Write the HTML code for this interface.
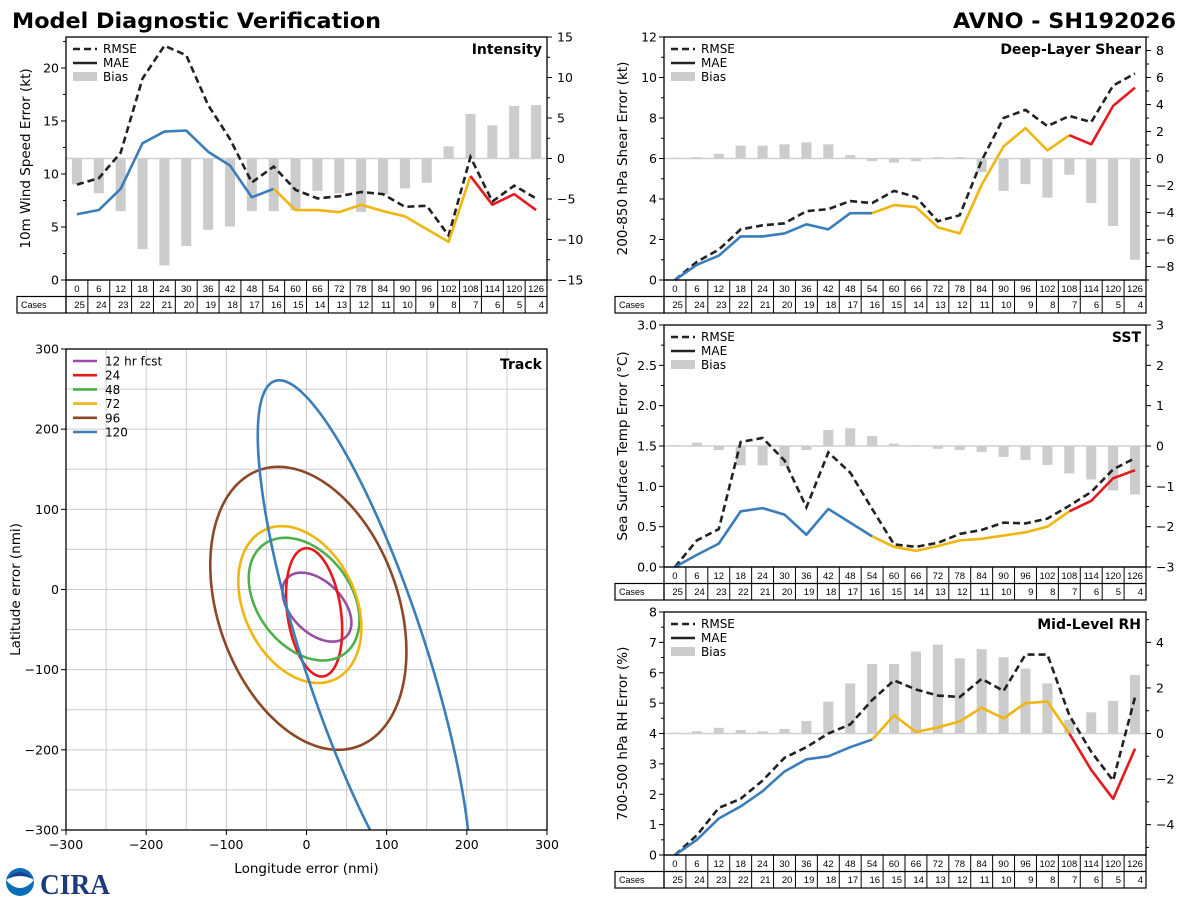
<!DOCTYPE html>
<html><head><meta charset="utf-8">
<style>
html,body{margin:0;padding:0;background:#fff;}
svg{display:block;font-family:"DejaVu Sans","Liberation Sans",sans-serif;}
</style></head>
<body>
<svg id="chart" width="1200" height="900" viewBox="0 0 1200 900" xmlns="http://www.w3.org/2000/svg">
<text x="12" y="28" font-size="21" font-weight="bold" fill="#000" textLength="369" lengthAdjust="spacingAndGlyphs">Model Diagnostic Verification</text>
<text x="953" y="28" font-size="21" font-weight="bold" fill="#000" textLength="223" lengthAdjust="spacingAndGlyphs">AVNO - SH192026</text>
<g>
<circle cx="20" cy="882" r="14" fill="#0a6fb8"/>
<path d="M6 880 Q20 896 34 880 Q20 872 6 880Z" fill="#fff"/>
<path d="M8 878 Q20 866 32 878 Q20 874 8 878Z" fill="#1b3f8f"/>
<text x="40" y="894" font-size="28" font-weight="bold" font-family="Liberation Serif,serif" fill="#1d3a7a" textLength="70" lengthAdjust="spacingAndGlyphs">CIRA</text>
</g>
</svg>
<script>
const leadHours = [0,6,12,18,24,30,36,42,48,54,60,66,72,78,84,90,96,102,108,114,120,126];
const caseCounts = [25,24,23,22,21,20,19,18,17,16,15,14,13,12,11,10,9,8,7,6,5,4];

const intensityRmse = [9.0,9.6,12.0,19.0,22.1,21.2,16.5,13.3,9.2,10.7,8.5,7.7,7.9,8.3,8.1,6.9,7.0,4.2,11.6,7.4,8.9,7.7];
const intensityMae = [6.2,6.6,8.6,12.9,14.0,14.1,12.1,10.8,7.8,8.6,6.6,6.6,6.4,7.1,6.5,6.0,4.8,3.6,9.8,7.1,8.1,6.6];
const intensityBias = [-3.2,-4.3,-6.5,-11.2,-13.2,-10.8,-8.8,-8.4,-6.5,-6.5,-6.4,-4.0,-4.3,-6.6,-4.4,-3.7,-3.0,1.5,5.5,4.1,6.5,6.6];

const shearRmse = [0,0.9,1.5,2.5,2.7,2.8,3.4,3.5,3.9,3.8,4.4,4.1,2.9,3.2,5.9,8.0,8.4,7.6,8.1,7.8,9.6,10.2];
const shearMae = [0,0.75,1.2,2.15,2.15,2.3,2.75,2.5,3.3,3.3,3.7,3.6,2.6,2.3,4.7,6.6,7.5,6.4,7.15,6.7,8.6,9.5];
const shearBias = [0.05,0.1,0.35,0.95,0.95,1.05,1.2,1.05,0.25,-0.2,-0.3,-0.2,0.1,0.1,-1.0,-2.4,-1.9,-2.9,-1.2,-3.3,-5.0,-7.5];

const sstRmse = [0,0.33,0.47,1.55,1.6,1.32,0.74,1.42,1.17,0.72,0.28,0.25,0.3,0.41,0.46,0.55,0.54,0.6,0.76,0.93,1.21,1.35];
const sstMae = [0,0.15,0.29,0.69,0.73,0.65,0.4,0.72,0.55,0.38,0.25,0.2,0.26,0.33,0.35,0.39,0.43,0.5,0.69,0.82,1.1,1.2];
const sstBias = [0.02,0.08,-0.1,-0.48,-0.48,-0.5,-0.1,0.4,0.44,0.25,0.06,0.02,-0.07,-0.1,-0.15,-0.27,-0.35,-0.47,-0.68,-0.83,-1.1,-1.2];

const rhRmse = [0,0.65,1.55,1.85,2.45,3.2,3.55,4.0,4.3,5.1,5.75,5.45,5.25,5.2,5.8,5.4,6.6,6.6,4.6,3.4,2.45,5.2];
const rhMae = [0,0.5,1.2,1.6,2.1,2.75,3.15,3.25,3.55,3.8,4.6,4.05,4.2,4.4,4.85,4.5,5.0,5.05,4.0,2.8,1.85,3.5];
const rhBias = [0.03,0.1,0.25,0.15,0.1,0.2,0.55,1.4,2.2,3.05,3.05,3.6,3.9,3.3,3.7,3.35,2.85,2.2,0.6,0.93,1.43,2.57];

// track error ellipses: centre x, centre y, half-height, x offset of top point, half-width at centre (nmi)
const trackLabels = ["12 hr fcst","24","48","72","96","120"];
const ellipseCx = [13,9.5,-3,-8.3,2.3,72];
const ellipseCy = [-22,-28.5,-12,-18.8,-23.5,-80];
const ellipseHalfH = [43,80,76.5,97.8,176.5,341];
const ellipseTopDx = [-19.4,-9.5,-23.5,-22.7,-37.3,-106];
const ellipseHalfW = [38.4,33.7,64.9,73.3,116.5,80];
const trackColors = ["#984ea3","#e41a1c","#4daf4a","#f0b510","#8b4726","#3a7dbb"];
const trackTicks = [-300,-200,-100,0,100,200,300];

const NS = "http://www.w3.org/2000/svg";
const svg = document.getElementById("chart");
function mk(tag, attrs, parent){
  const e = document.createElementNS(NS, tag);
  for (const k in attrs) e.setAttribute(k, attrs[k]);
  (parent||svg).appendChild(e);
  return e;
}
function fmt(v, dec){
  const s = Math.abs(v).toFixed(dec);
  return (v < 0 ? "\u2212" : "") + s;
}
const BLUE="#3a7dbb", YEL="#f0b510", RED="#e41a1c";

function panel(cfg){
  const g = mk("g", {});
  
  
  const L = cfg.x0, R = cfg.x1, T = cfg.y0, B = cfg.y1;
  const n = leadHours.length, cw = (R - L) / n;
  const xs = i => L + cw * (i + 0.5);
  const yl = v => B - (v - cfg.lmin) / (cfg.lmax - cfg.lmin) * (B - T);
  const yr = v => B - (v - cfg.rmin) / (cfg.rmax - cfg.rmin) * (B - T);
  const zl = mk("line", {x1:L, x2:R, y1:yr(0), y2:yr(0), stroke:"#d0d0d0", "stroke-width":1.5}, g);
  
  
  cfg.bias.forEach((v, i) => {
    const y0 = yr(0), y1 = yr(v);
    const r = mk("rect", {x: xs(i) - cw*0.23, width: cw*0.46, y: Math.min(y0,y1), height: Math.max(Math.abs(y1-y0),0.5), fill:"#cccccc"}, g);
    
    
  });
  const rp = mk("polyline", {points: cfg.rmse.map((v,i)=>xs(i)+","+yl(v)).join(" "), fill:"none", stroke:"#222", "stroke-width":2.6, "stroke-dasharray":"7,4"}, g);
  
  
  const segs = [[0,9,BLUE],[9,18,YEL],[18,n-1,RED]];
  segs.forEach(s => {
    const pts = [];
    for (let i = s[0]; i <= s[1]; i++) pts.push(xs(i)+","+yl(cfg.mae[i]));
    const p = mk("polyline", {points: pts.join(" "), fill:"none", stroke:s[2], "stroke-width":2.6, "stroke-linejoin":"round"}, g);
    
    
  });
  const fr = mk("rect", {x:L, y:T, width:R-L, height:B-T, fill:"none", stroke:"#000", "stroke-width":1.3}, g);
  
  
  for (let v = cfg.lmin; v <= cfg.lmax + 1e-9; v += cfg.lminor){
    const major = Math.abs(v/cfg.lstep - Math.round(v/cfg.lstep)) < 1e-6;
    mk("line", {x1:L, x2:L-(major?5:3), y1:yl(v), y2:yl(v), stroke:"#000", "stroke-width":1}, g);
    if (major){
      const t = mk("text", {x:L-7, y:yl(v)+4.5, "font-size":12.5, "text-anchor":"end"}, g);
      t.textContent = fmt(v, cfg.ldec);
      
      
    }
  }
  const rstart = Math.ceil(cfg.rmin / cfg.rminor - 1e-9) * cfg.rminor;
  for (let v = rstart; v <= cfg.rmax + 1e-9; v += cfg.rminor){
    const major = Math.abs(v/cfg.rstep - Math.round(v/cfg.rstep)) < 1e-6;
    mk("line", {x1:R, x2:R+(major?5:3), y1:yr(v), y2:yr(v), stroke:"#000", "stroke-width":1}, g);
    if (major){
      const t = mk("text", {x:R+10, y:yr(v)+4.5, "font-size":12.5}, g);
      t.textContent = fmt(Math.round(v*1000)/1000, 0);
      
      
    }
  }
  const cy = (T+B)/2;
  const yt = mk("text", {x:cfg.ylx, y:cy, "font-size":13.5, "text-anchor":"middle", transform:"rotate(-90 "+cfg.ylx+" "+cy+")"}, g);
  yt.textContent = cfg.ylabel;
  
  
  const pt = mk("text", {x:R-5, y:T+17, "font-size":14, "font-weight":"bold", "text-anchor":"end"}, g);
  pt.textContent = cfg.title;
  
  
  const lg = mk("g", {}, g);
  
  
  mk("line", {x1:L+7, x2:L+31, y1:T+12, y2:T+12, stroke:"#222", "stroke-width":2.6, "stroke-dasharray":"7,4"}, lg);
  mk("line", {x1:L+7, x2:L+31, y1:T+26, y2:T+26, stroke:"#222", "stroke-width":2.6}, lg);
  mk("rect", {x:L+7, y:T+35, width:24, height:9, fill:"#cccccc"}, lg);
  ["RMSE","MAE","Bias"].forEach((s,k)=>{
    const t = mk("text", {x:L+37, y:T+16+k*14, "font-size":12}, lg);
    t.textContent = s;
    
    
  });
  const tb = mk("g", {"font-size":9.5, "font-family":"Liberation Sans Narrow, Liberation Sans, sans-serif"}, g);
  
  
  const r1 = B + 16.5, r2 = B + 33;
  mk("rect", {x:L, y:B, width:R-L, height:r2-B, fill:"none", stroke:"#000", "stroke-width":1.2}, tb);
  mk("rect", {x:cfg.caseX, y:r1, width:L-cfg.caseX, height:r2-r1, fill:"none", stroke:"#000", "stroke-width":1.2}, tb);
  mk("line", {x1:L, x2:R, y1:r1, y2:r1, stroke:"#000", "stroke-width":1.2}, tb);
  const ct = mk("text", {x:cfg.caseX+4, y:r2-5, "font-size":9}, tb);
  ct.textContent = "Cases";
  for (let i = 0; i < n; i++){
    if (i > 0) mk("line", {x1:L+cw*i, x2:L+cw*i, y1:B, y2:r2, stroke:"#000", "stroke-width":1}, tb);
    const a = mk("text", {x:xs(i), y:B+12, "text-anchor":"middle"}, tb);
    a.textContent = leadHours[i];
    const b = mk("text", {x:L+cw*(i+1)-3, y:r2-5, "text-anchor":"end"}, tb);
    b.textContent = caseCounts[i];
  }
}

panel({name:"intensity", x0:66, x1:547, y0:37, y1:280, lmin:0, lmax:22.92, lstep:5, lminor:2.5, ldec:0,
  rmin:-15, rmax:15, rstep:5, rminor:2.5, rmse:intensityRmse, mae:intensityMae, bias:intensityBias,
  ylabel:"10m Wind Speed Error (kt)", ylx:30, title:"Intensity", caseX:17});
panel({name:"shear", x0:664, x1:1146, y0:37, y1:280, lmin:0, lmax:12, lstep:2, lminor:1, ldec:0,
  rmin:-9, rmax:9, rstep:2, rminor:1, rmse:shearRmse, mae:shearMae, bias:shearBias,
  ylabel:"200-850 hPa Shear Error (kt)", ylx:627, title:"Deep-Layer Shear", caseX:615});
panel({name:"sst", x0:664, x1:1146, y0:325, y1:567, lmin:0, lmax:3, lstep:0.5, lminor:0.25, ldec:1,
  rmin:-3, rmax:3, rstep:1, rminor:0.5, rmse:sstRmse, mae:sstMae, bias:sstBias,
  ylabel:"Sea Surface Temp Error (\u00b0C)", ylx:627, title:"SST", caseX:615});
panel({name:"rh", x0:664, x1:1146, y0:612, y1:855, lmin:0, lmax:8, lstep:1, lminor:0.5, ldec:0,
  rmin:-16/3, rmax:16/3, rstep:2, rminor:1, rmse:rhRmse, mae:rhMae, bias:rhBias,
  ylabel:"700-500 hPa RH Error (%)", ylx:627, title:"Mid-Level RH", caseX:615});

(function(){
  const L=66, R=547, T=349, B=830;
  const g = mk("g", {});
  
  
  const X = v => L + (v + 300) / 600 * (R - L);
  const Y = v => B - (v + 300) / 600 * (B - T);
  const defs = mk("defs", {}, g);
  const cp = mk("clipPath", {id:"trkclip"}, defs);
  mk("rect", {x:L, y:T, width:R-L, height:B-T}, cp);
  for (let v = -250; v < 300; v += 50){
    mk("line", {x1:X(v), x2:X(v), y1:T, y2:B, stroke:"#cccccc", "stroke-width":1}, g);
    mk("line", {x1:L, x2:R, y1:Y(v), y2:Y(v), stroke:"#cccccc", "stroke-width":1}, g);
  }
  const eg = mk("g", {"clip-path":"url(#trkclip)"}, g);
  ellipseCx.forEach((cx, k) => {
    const cy = ellipseCy[k], h = ellipseHalfH[k], dx = ellipseTopDx[k], w = ellipseHalfW[k];
    const pts = [];
    for (let s = 0; s <= 180; s++){
      const u = s / 180 * 2 * Math.PI;
      pts.push(X(cx + dx*Math.cos(u) + w*Math.sin(u)).toFixed(2) + "," + Y(cy + h*Math.cos(u)).toFixed(2));
    }
    const p = mk("polygon", {points:pts.join(" "), fill:"none", stroke:trackColors[k], "stroke-width":2.6}, eg);
    
    
  });
  mk("rect", {x:L, y:T, width:R-L, height:B-T, fill:"none", stroke:"#000", "stroke-width":1.3}, g);
  trackTicks.forEach(v => {
    mk("line", {x1:X(v), x2:X(v), y1:B, y2:B+5, stroke:"#000"}, g);
    mk("line", {x1:L, x2:L-5, y1:Y(v), y2:Y(v), stroke:"#000"}, g);
    const tx = mk("text", {x:X(v), y:B+19, "font-size":12.5, "text-anchor":"middle"}, g);
    tx.textContent = fmt(v, 0);
    
    
    const ty = mk("text", {x:L-7, y:Y(v)+4.5, "font-size":12.5, "text-anchor":"end"}, g);
    ty.textContent = fmt(v, 0);
    
    
  });
  const xt = mk("text", {x:(L+R)/2, y:B+43, "font-size":13.5, "text-anchor":"middle"}, g);
  xt.textContent = "Longitude error (nmi)";
  
  
  const cyy = (T+B)/2;
  const yt = mk("text", {x:20, y:cyy, "font-size":13.5, "text-anchor":"middle", transform:"rotate(-90 20 "+cyy+")"}, g);
  yt.textContent = "Latitude error (nmi)";
  
  
  const tt = mk("text", {x:R-5, y:T+20, "font-size":14, "font-weight":"bold", "text-anchor":"end"}, g);
  tt.textContent = "Track";
  
  
  trackLabels.forEach((s, k) => {
    const y = T + 12 + k * 14.2;
    mk("line", {x1:L+7, x2:L+31, y1:y, y2:y, stroke:trackColors[k], "stroke-width":2.6}, g);
    const t = mk("text", {x:L+39, y:y+4.5, "font-size":12}, g);
    t.textContent = s;
    
    
  });
})();
</script>
</body></html>
